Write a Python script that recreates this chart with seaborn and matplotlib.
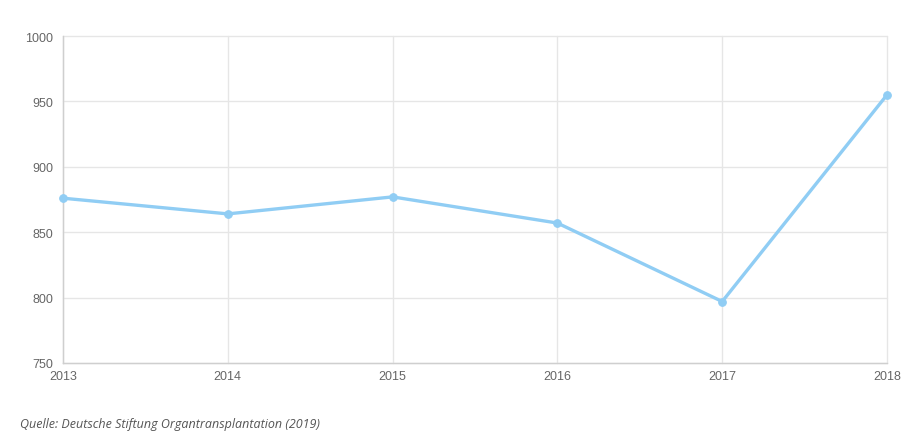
import matplotlib
matplotlib.use("Agg")
import matplotlib.pyplot as plt
import seaborn as sns
import pandas as pd

# Data
years = [2013, 2014, 2015, 2016, 2017, 2018]
values = [876, 864, 877, 857, 797, 955]
y_ticks = [750, 800, 850, 900, 950, 1000]
source_text = "Quelle: Deutsche Stiftung Organtransplantation (2019)"

df = pd.DataFrame({"year": years, "value": values})

sns.set_style("white")
plt.rcParams["font.family"] = ["Open Sans", "DejaVu Sans"]

fig = plt.figure(figsize=(9.08, 4.35), dpi=100)
ax = fig.add_axes([63 / 908, 1 - 364 / 435, (887 - 63) / 908, (364 - 37) / 435])

line_color = "#90cdf4"
sns.lineplot(data=df, x="year", y="value", ax=ax, color=line_color,
             linewidth=2.4, marker="o", markersize=5.5,
             markeredgecolor=line_color, zorder=3, clip_on=False)

ax.set_xlim(2013, 2018)
ax.set_ylim(750, 1000)
ax.set_xticks(years)
ax.set_yticks(y_ticks)
ax.set_xlabel("")
ax.set_ylabel("")

ax.grid(True, color="#e6e6e6", linewidth=1)
for gl in ax.get_xgridlines() + ax.get_ygridlines():
    gl.set_clip_on(False)
for side in ["top", "right"]:
    ax.spines[side].set_visible(False)
for side in ["left", "bottom"]:
    ax.spines[side].set_color("#cfcfcf")
    ax.spines[side].set_linewidth(1)

ax.tick_params(axis="y", length=5, color="#e6e6e6", labelsize=9,
               labelcolor="#666666", pad=2)
ax.tick_params(axis="x", length=0, labelsize=9, labelcolor="#666666", pad=5)
for lbl in ax.get_xticklabels() + ax.get_yticklabels():
    lbl.set_family(["Liberation Sans", "DejaVu Sans"])

fig.text(20 / 908, 1 - 425 / 435, source_text, fontsize=9, style="italic",
         color="#555555", va="center", ha="left")

fig.savefig("out.png", dpi=100)
